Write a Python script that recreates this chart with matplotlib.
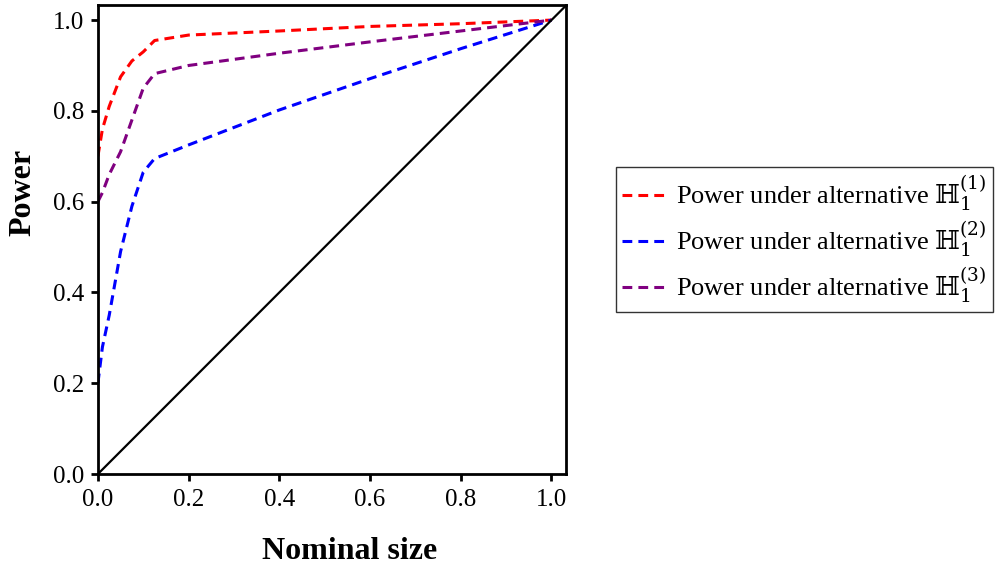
import matplotlib
matplotlib.use("Agg")
import matplotlib.pyplot as plt

nominal = [0.0, 0.01, 0.025, 0.05, 0.075, 0.1, 0.125, 0.2, 0.4, 0.6, 0.8, 1.0]
power_h1 = [0.70, 0.76, 0.81, 0.875, 0.91, 0.93, 0.955, 0.967, 0.976, 0.986, 0.992, 1.0]
power_h2 = [0.20, 0.28, 0.35, 0.49, 0.59, 0.665, 0.695, 0.725, 0.802, 0.871, 0.937, 1.0]
power_h3 = [0.60, 0.62, 0.66, 0.71, 0.78, 0.85, 0.882, 0.90, 0.927, 0.952, 0.976, 1.0]
diag = [0.0, 1.04]

labels = [r"Power under alternative $\mathrm{ℍ}_1^{(1)}$",
          r"Power under alternative $\mathrm{ℍ}_1^{(2)}$",
          r"Power under alternative $\mathrm{ℍ}_1^{(3)}$"]
ticks = [0.0, 0.2, 0.4, 0.6, 0.8, 1.0]
tick_labels = ["0.0", "0.2", "0.4", "0.6", "0.8", "1.0"]

plt.rcParams['font.family'] = ['Liberation Serif', 'DejaVu Serif']
plt.rcParams['mathtext.fontset'] = 'custom'
plt.rcParams['mathtext.rm'] = 'DejaVu Serif'
plt.rcParams['mathtext.it'] = 'DejaVu Serif:italic'

fig = plt.figure(figsize=(9.99, 5.67), dpi=100)
ax = fig.add_axes([0.098, 0.164, 0.469, 0.827])

dash = (0, (3.2, 2))
ax.plot(nominal, power_h1, color='red', ls=dash, lw=2.2, label=labels[0])
ax.plot(nominal, power_h2, color='blue', ls=dash, lw=2.2, label=labels[1])
ax.plot(nominal, power_h3, color='purple', ls=dash, lw=2.2, label=labels[2])
ax.plot(diag, diag, color='black', lw=1.6)

ax.set_xlim(0, 1.033)
ax.set_ylim(0, 1.033)
ax.set_xticks(ticks)
ax.set_xticklabels(tick_labels)
ax.set_yticks(ticks)
ax.set_yticklabels(tick_labels)
ax.tick_params(axis='both', direction='out', length=5, width=2, labelsize=18, pad=5)
ax.tick_params(axis='x', pad=6)
for s in ax.spines.values():
    s.set_linewidth(2)
ax.set_xlabel("Nominal size", fontsize=23, fontweight='bold')
ax.set_ylabel("Power", fontsize=23, fontweight='bold')
ax.xaxis.set_label_coords(0.538, -0.135)
ax.yaxis.set_label_coords(-0.128, 0.601)

leg = ax.legend(loc='center left', bbox_to_anchor=(1.105, 0.5), fontsize=19,
                frameon=True, fancybox=False, edgecolor='black', borderaxespad=0,
                handlelength=1.6, handletextpad=0.45, borderpad=0.25, labelspacing=0.25)
leg.get_frame().set_linewidth(1)

fig.savefig("out.png", dpi=100)
